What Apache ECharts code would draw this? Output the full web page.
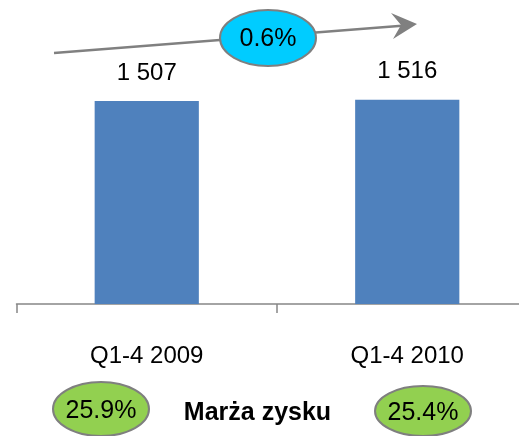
<!doctype html>
<html>
<head>
<meta charset="utf-8">
<title>Marża zysku</title>
<style>
  html, body { margin: 0; padding: 0; background: #fff; overflow: hidden; }
  /* wykres szerszy niz okno: os wychodzi poza prawa krawedz */
  #main { width: 540px; height: 436px; }
</style>
</head>
<body>
<div id="main"></div>
<script src="https://cdn.jsdelivr.net/npm/echarts@6/dist/echarts.min.js"></script>
<script>
// dane
var categories = ['Q1-4 2009', 'Q1-4 2010'];
var values = [1507, 1516];
var growth = ['0.6%'];
var margins = ['25.9%', '25.4%'];
var marginTitle = ['Marża zysku'];

var font = '"Liberation Sans", Arial, sans-serif';

// etykiety z odstepem tysiecy: 1 507
function fmt(v) {
    return String(v).replace(/\B(?=(\d{3})+(?!\d))/g, ' ');
}

var myChart = echarts.init(document.getElementById('main'));

function ellipse(cx, cy, rx, ry, fill) {
    return {
        type: 'ellipse',
        shape: { cx: cx, cy: cy, rx: rx, ry: ry },
        style: { fill: fill, stroke: '#7f7f7f', lineWidth: 2 },
        z: 10
    };
}

function label(x, y, text, bold) {
    return {
        type: 'text',
        x: x,
        y: y,
        z: 11,
        style: {
            text: text,
            fontSize: 25,
            fontWeight: bold ? 'bold' : 'normal',
            fontFamily: font,
            fill: '#000',
            align: 'center',
            verticalAlign: 'middle'
        }
    };
}

var option = {
    animation: false,
    grid: { left: 16.5, right: 2.5, top: 34.6, bottom: 132 },
    xAxis: {
        type: 'category',
        data: categories,
        axisLine: { lineStyle: { color: '#868686', width: 1.5 } },
        axisTick: { show: true, length: 9, lineStyle: { color: '#868686', width: 1.5 } },
        axisLabel: { color: '#000', fontSize: 24, fontFamily: font, margin: 40 }
    },
    yAxis: {
        type: 'value',
        min: 0,
        max: 2000,
        show: false,
        splitLine: { show: false }
    },
    series: [{
        type: 'bar',
        data: values,
        barWidth: '40%',
        itemStyle: { color: '#4F81BD' },
        label: {
            show: true,
            position: 'top',
            distance: 16,
            color: '#000',
            fontSize: 24,
            fontFamily: font,
            formatter: function (p) { return fmt(p.value); }
        }
    }],
    graphic: [
        {
            type: 'line',
            shape: { x1: 54, y1: 53, x2: 405, y2: 25.5 },
            style: { stroke: '#808080', lineWidth: 2.5 }
        },
        {
            type: 'polygon',
            shape: { points: [[391, 13], [417, 24], [393, 39], [401, 25]] },
            style: { fill: '#808080' }
        },
        ellipse(268, 38, 48, 28, '#00CCFF'),
        label(268, 39, growth[0]),
        ellipse(101, 409, 48, 27, '#92D050'),
        label(101, 411, margins[0]),
        ellipse(423, 411, 48, 25, '#92D050'),
        label(423, 413, margins[1]),
        label(257.5, 413, marginTitle[0], true)
    ]
};
myChart.setOption(option);
</script>
</body>
</html>
